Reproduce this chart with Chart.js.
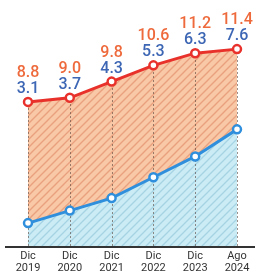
<!DOCTYPE html>
<html>
<head>
<meta charset="utf-8">
<script src="https://cdn.jsdelivr.net/npm/chart.js@4"></script>
<style>
  html, body { margin: 0; padding: 0; background: #fff; }
  #wrap { width: 255px; height: 277px; position: relative; }
</style>
</head>
<body>
<div id="wrap"><canvas id="chart"></canvas></div>
<script>
// datos
const labels = [['Dic', '2019'], ['Dic', '2020'], ['Dic', '2021'], ['Dic', '2022'], ['Dic', '2023'], ['Ago', '2024']];
const redValues = [8.8, 9.0, 9.8, 10.6, 11.2, 11.4];
const blueValues = [3.1, 3.7, 4.3, 5.3, 6.3, 7.6];

const makeHatch = (base, line) => {
    const c = document.createElement('canvas');
    c.width = 8;
    c.height = 8;
    const g = c.getContext('2d');
    g.fillStyle = base;
    g.fillRect(0, 0, 8, 8);
    g.strokeStyle = line;
    g.lineWidth = 1.3;
    g.beginPath();
    g.moveTo(-1, 9); g.lineTo(9, -1);
    g.moveTo(-5, 5); g.lineTo(5, -5);
    g.moveTo(3, 13); g.lineTo(13, 3);
    g.stroke();
    return g.createPattern(c, 'repeat');
};

const ctx = document.getElementById('chart').getContext('2d');
const orangeHatch = makeHatch('#f9c8a6', '#e8a07e');
const blueHatch = makeHatch('#cbecf5', '#a6d3e3');

const guides = {
    id: 'guides',
    beforeDatasetsDraw(chart) {
        const c = chart.ctx;
        const pts = chart.getDatasetMeta(1).data;
        const base = chart.scales.y.bottom;
        c.save();
        c.strokeStyle = 'rgba(90,70,60,0.6)';
        c.lineWidth = 1;
        c.setLineDash([2, 2]);
        pts.forEach(p => {
            const x = Math.round(p.x) + 0.5;
            c.beginPath();
            c.moveTo(x, base);
            c.lineTo(x, p.y);
            c.stroke();
        });
        c.setLineDash([]);
        c.strokeStyle = '#333';
        c.lineWidth = 2;
        c.beginPath();
        c.moveTo(5, base + 1);
        c.lineTo(255, base + 1);
        c.stroke();
        c.restore();
    },
    afterDatasetsDraw(chart) {
        const c = chart.ctx;
        const pts = chart.getDatasetMeta(1).data;
        c.save();
        c.font = '500 16px Roboto';
        c.textAlign = 'center';
        c.textBaseline = 'middle';
        pts.forEach((p, i) => {
            c.fillStyle = '#ee6a3c';
            c.fillText(redValues[i].toFixed(1), p.x, p.y - 29);
            c.fillStyle = '#3d66b4';
            c.fillText(blueValues[i].toFixed(1), p.x, p.y - 13);
        });
        c.restore();
    }
};

new Chart(ctx, {
    type: 'line',
    data: {
        labels: labels,
        datasets: [
            {
                data: blueValues,
                yAxisID: 'y',
                borderColor: '#2f8fdc',
                backgroundColor: blueHatch,
                borderWidth: 3,
                pointRadius: 4,
                pointBorderWidth: 2.5,
                pointBackgroundColor: '#fff',
                pointBorderColor: '#2f8fdc',
                fill: 'start',
                tension: 0
            },
            {
                data: redValues,
                yAxisID: 'y2',
                borderColor: '#e8312a',
                backgroundColor: orangeHatch,
                borderWidth: 3,
                pointRadius: 4,
                pointBorderWidth: 2.5,
                pointBackgroundColor: '#fff',
                pointBorderColor: '#e8312a',
                fill: '-1',
                tension: 0
            }
        ]
    },
    options: {
        responsive: true,
        maintainAspectRatio: false,
        animation: false,
        layout: { padding: { left: 28, right: 18, top: 0, bottom: 0 } },
        plugins: {
            legend: { display: false },
            tooltip: { enabled: false },
            filler: { drawTime: 'beforeDatasetsDraw' }
        },
        scales: {
            x: {
                offset: false,
                grid: { display: false },
                border: { display: false },
                afterFit: (scale) => { scale.height = 31; },
                ticks: {
                    color: '#333',
                    font: { family: 'Roboto', size: 11, lineHeight: 1.1 },
                    padding: -4,
                    maxRotation: 0,
                    autoSkip: false
                }
            },
            y: {
                display: false,
                min: 2,
                max: 13.5
            },
            y2: {
                display: false,
                min: 1.7,
                max: 13.5
            }
        }
    },
    plugins: [guides]
});
</script>
</body>
</html>
